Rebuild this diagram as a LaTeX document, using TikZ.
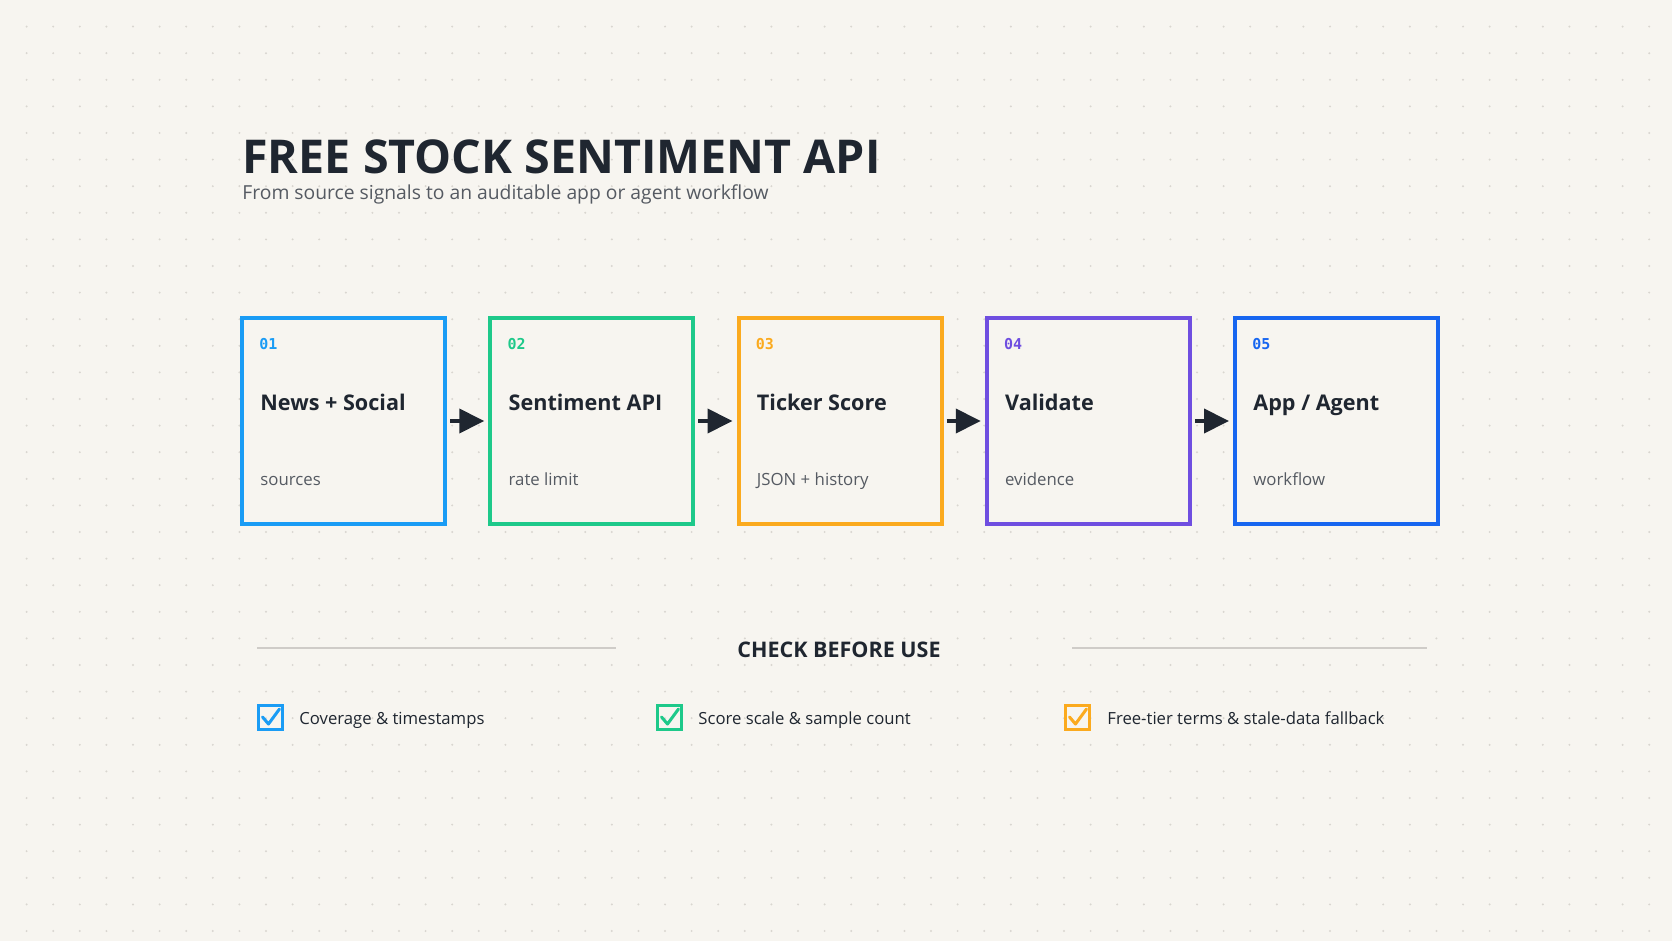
\documentclass[tikz,border=0pt]{standalone}
\usepackage{fontspec}
\setmainfont{Open Sans}
\newfontfamily\monofont{DejaVu Sans Mono}
\usetikzlibrary{arrows.meta,calc}
\definecolor{bg}{HTML}{F7F5F0}
\definecolor{dotc}{HTML}{D9D6D0}
\definecolor{ink}{HTML}{1F2630}
\definecolor{subink}{HTML}{555A62}
\definecolor{cA}{HTML}{1A9CF5}
\definecolor{cB}{HTML}{1EC98A}
\definecolor{cC}{HTML}{FBAA1E}
\definecolor{cD}{HTML}{6F4EE0}
\definecolor{cE}{HTML}{1766F0}
\definecolor{rulec}{HTML}{CFCCC8}
\tikzset{
  stagebox/.style={draw=#1, line width=2pt, minimum width=101.5pt, minimum height=103pt, inner sep=0pt, fill=bg},
  numlbl/.style={anchor=base west, inner sep=0pt, text=#1, font=\monofont\bfseries\fontsize{7.5}{9}\selectfont},
  stagetitle/.style={anchor=base west, inner sep=0pt, text=ink, font=\bfseries\fontsize{10.8}{13}\selectfont},
  stagesub/.style={anchor=base west, inner sep=0pt, text=subink, font=\fontsize{8.4}{10}\selectfont},
  flow/.style={draw=ink, line width=2pt, -{Triangle[length=12.5pt,width=12pt]}, shorten <=1.5pt, shorten >=2pt},
  checkbox/.style={draw=#1, line width=1.5pt, minimum width=12pt, minimum height=12pt, inner sep=0pt},
  tick/.style={draw=#1, line width=1.5pt, line cap=round, line join=round},
  checktext/.style={anchor=base west, inner sep=0pt, text=ink, font=\fontsize{8.35}{10}\selectfont},
}
\begin{document}
\begin{tikzpicture}[x=0.5pt,y=-0.5pt]
\fill[bg] (0,0) rectangle (1672,941);
\useasboundingbox (0,0) rectangle (1672,941);
\foreach \i in {1,...,62}{\foreach \j in {1,...,35}{\fill[dotc] (26.6*\i,26.6*\j) circle[radius=1.1];}}
% title
\node[anchor=base west, inner sep=0pt, text=ink, font=\bfseries\fontsize{23.3}{27}\selectfont] (title) at (242,174) {FREE STOCK SENTIMENT API};
\node[anchor=base west, inner sep=0pt, text=subink, font=\fontsize{9.65}{11}\selectfont] (subtitle) at (242,200) {From source signals to an auditable app or agent workflow};
% stages
\node[stagebox=cA] (b1) at (343.5,421) {};
\node[stagebox=cB] (b2) at (591.75,421) {};
\node[stagebox=cC] (b3) at (840,421) {};
\node[stagebox=cD] (b4) at (1088.25,421) {};
\node[stagebox=cE] (b5) at (1336.5,421) {};
\foreach \b/\c/\n/\t/\s in {b1/cA/01/{News + Social}/sources, b2/cB/02/{Sentiment API}/{rate limit}, b3/cC/03/{Ticker Score}/{JSON + history}, b4/cD/04/Validate/evidence, b5/cE/05/{App / Agent}/workflow}{
  \node[numlbl=\c] (\b n) at ($(\b.north west)+(19,34)$) {\n};
  \node[stagetitle] (\b t) at ($(\b.north west)+(20,94)$) {\t};
  \node[stagesub] (\b s) at ($(\b.north west)+(20,169)$) {\s};
}
\draw[flow] (b1.east) -- (b2.west);
\draw[flow] (b2.east) -- (b3.west);
\draw[flow] (b3.east) -- (b4.west);
\draw[flow] (b4.east) -- (b5.west);
% check section
\node[anchor=base, inner sep=0pt, text=ink, font=\bfseries\fontsize{10.75}{12}\selectfont] (check) at (839,657) {CHECK BEFORE USE};
\coordinate (l1a) at (257,648); \coordinate (l1b) at (616,648);
\coordinate (l2a) at (1072,648); \coordinate (l2b) at (1427,648);
\draw[rulec, line width=1pt] (l1a) -- (l1b);
\draw[rulec, line width=1pt] (l2a) -- (l2b);
\node[checkbox=cA] (k1) at (270.5,717) {};
\node[checkbox=cB] (k2) at (669.5,717) {};
\node[checkbox=cC] (k3) at (1077.5,717) {};
\foreach \k/\c in {k1/cA,k2/cB,k3/cC}{
  \draw[tick=\c] ($(\k.center)+(-8,0)$) -- ($(\k.center)+(-2,7)$) -- ($(\k.center)+(9,-8)$);
}
\node[checktext] (t1) at (299,724) {Coverage \& timestamps};
\node[checktext] (t2) at (698,724) {Score scale \& sample count};
\node[checktext] (t3) at (1107,724) {Free-tier terms \& stale-data fallback};
\end{tikzpicture}
\end{document}
